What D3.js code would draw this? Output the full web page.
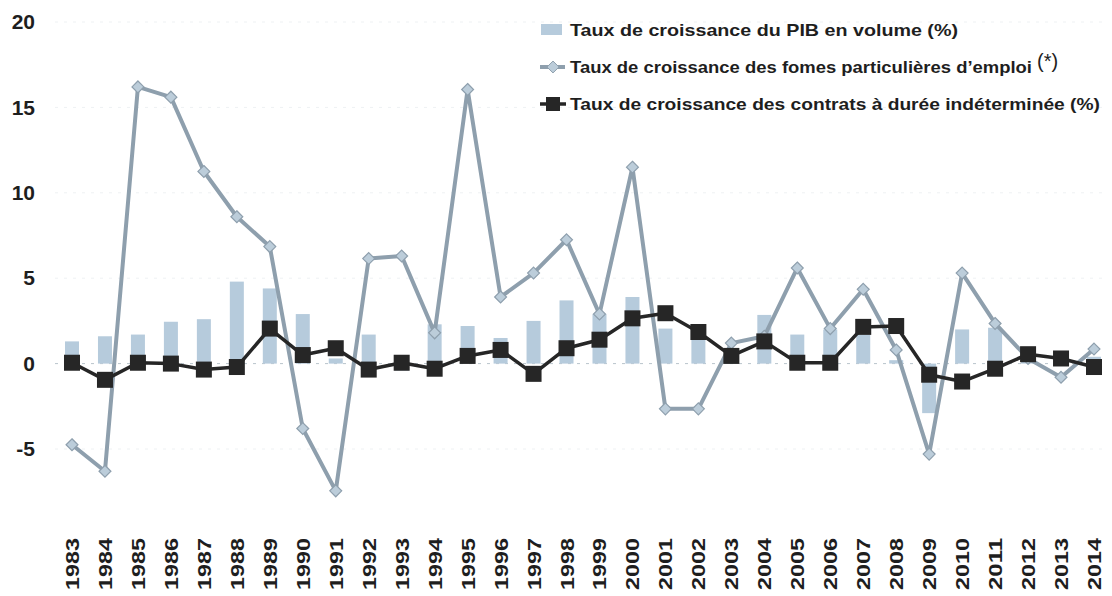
<!DOCTYPE html>
<html>
<head>
<meta charset="utf-8">
<script src="https://cdn.jsdelivr.net/npm/d3@7"></script>
<style>
  body { margin: 0; background: #fff; }
  svg { display: block; font-family: "Liberation Sans", Arial, sans-serif; }
</style>
</head>
<body>
<svg id="chart" width="1112" height="596"></svg>
<script>
// Data
const years = d3.range(1983, 2015).map(String);
const pib = [1.3, 1.6, 1.7, 2.45, 2.6, 4.8, 4.4, 2.9, 0.3, 1.7, -0.4, 2.3, 2.2, 1.5, 2.5, 3.7,
             2.9, 3.9, 2.05, 1.4, 0.8, 2.85, 1.7, 2.0, 1.7, 0.2, -2.9, 2.0, 2.1, 0.2, 0.5, 0.4];
const formes = [-4.75, -6.3, 16.2, 15.6, 11.25, 8.6, 6.85, -3.8, -7.45, 6.15, 6.3, 1.8, 16.05, 3.9, 5.3, 7.25,
                2.9, 11.5, -2.65, -2.65, 1.2, 1.6, 5.6, 2.05, 4.35, 0.8, -5.3, 5.3, 2.35, 0.3, -0.8, 0.85];
const cdi = [0.05, -0.95, 0.05, 0.0, -0.35, -0.2, 2.05, 0.5, 0.9, -0.35, 0.05, -0.3, 0.45, 0.8, -0.6, 0.9,
             1.4, 2.65, 2.95, 1.85, 0.45, 1.3, 0.05, 0.05, 2.15, 2.2, -0.65, -1.05, -0.3, 0.55, 0.3, -0.2];
const yTicks = [-5, 0, 5, 10, 15, 20];
const legendLabels = [
  "Taux de croissance du PIB en volume (%)",
  "Taux de croissance des fomes particulières d\u2019emploi",
  "Taux de croissance des contrats à durée indéterminée (%)"
];

const barColor = "#b6cbdc";
const greyLine = "#8e9fad";
const diamondFill = "#bccdda";
const darkLine = "#262626";
const textColor = "#1e1e1e";

const svg = d3.select("#chart");

const x = d3.scalePoint().domain(years).range([72, 1094]);
const y = d3.scaleLinear().domain([-5, 20]).range([449, 22]);

// faint dotted gridlines
svg.append("g")
  .selectAll("line")
  .data(yTicks)
  .join("line")
  .attr("x1", 55)
  .attr("x2", 1105)
  .attr("y1", d => y(d))
  .attr("y2", d => y(d))
  .attr("stroke", d => d === 0 ? "#b9c4cc" : "#eef1f3")
  .attr("stroke-width", 1)
  .attr("stroke-dasharray", "3,6");

// y axis labels
const yAxis = svg.append("g")
  .attr("transform", "translate(41,0)")
  .call(d3.axisLeft(y).tickValues(yTicks).tickSize(0).tickPadding(6).tickFormat(d => String(d)));
yAxis.select(".domain").remove();
yAxis.selectAll("text")
  .attr("font-size", 21)
  .attr("font-weight", "bold")
  .attr("fill", textColor)
  .attr("font-family", "Liberation Sans, Arial, sans-serif");

// x axis labels (rotated)
svg.append("g")
  .selectAll("text")
  .data(years)
  .join("text")
  .attr("transform", d => `translate(${x(d) + 7},590) rotate(-90)`)
  .attr("font-size", 19)
  .attr("font-weight", "bold")
  .attr("fill", textColor)
  .attr("textLength", 52)
  .attr("lengthAdjust", "spacingAndGlyphs")
  .text(d => d);

// GDP bars
const barW = 14;
svg.append("g")
  .selectAll("rect")
  .data(years)
  .join("rect")
  .attr("x", d => x(d) - barW / 2)
  .attr("width", barW)
  .attr("y", (d, i) => y(Math.max(0, pib[i])))
  .attr("height", (d, i) => Math.abs(y(pib[i]) - y(0)))
  .attr("fill", barColor);

// Formes particulières line
const lineF = d3.line().x((d, i) => x(years[i])).y(d => y(d));
svg.append("path")
  .datum(formes)
  .attr("d", lineF)
  .attr("fill", "none")
  .attr("stroke", greyLine)
  .attr("stroke-width", 4)
  .attr("stroke-linejoin", "round");

const diamond = d3.symbol().type(d3.symbolDiamond2).size(90);
svg.append("g")
  .selectAll("path")
  .data(formes)
  .join("path")
  .attr("transform", (d, i) => `translate(${x(years[i])},${y(d)})`)
  .attr("d", diamond)
  .attr("fill", diamondFill)
  .attr("stroke", greyLine)
  .attr("stroke-width", 1.2);

// CDI line
svg.append("path")
  .datum(cdi)
  .attr("d", lineF)
  .attr("fill", "none")
  .attr("stroke", darkLine)
  .attr("stroke-width", 3.5)
  .attr("stroke-linejoin", "round");

const sq = 16;
svg.append("g")
  .selectAll("rect")
  .data(cdi)
  .join("rect")
  .attr("x", (d, i) => x(years[i]) - sq / 2)
  .attr("y", d => y(d) - sq / 2)
  .attr("width", sq)
  .attr("height", sq)
  .attr("fill", darkLine);

// Legend
const legend = svg.append("g").attr("transform", "translate(540,0)");
const rowY = [30, 67, 104];
const textLens = [388, 462, 530];

legend.append("rect")
  .attr("x", 1).attr("y", rowY[0] - 6)
  .attr("width", 21).attr("height", 11)
  .attr("fill", barColor);

legend.append("line")
  .attr("x1", 0).attr("x2", 25)
  .attr("y1", rowY[1]).attr("y2", rowY[1])
  .attr("stroke", greyLine).attr("stroke-width", 4);
legend.append("path")
  .attr("transform", `translate(13,${rowY[1]})`)
  .attr("d", diamond)
  .attr("fill", diamondFill)
  .attr("stroke", greyLine);

legend.append("line")
  .attr("x1", 0).attr("x2", 26)
  .attr("y1", rowY[2]).attr("y2", rowY[2])
  .attr("stroke", darkLine).attr("stroke-width", 3.5);
legend.append("rect")
  .attr("x", 13 - 7).attr("y", rowY[2] - 7)
  .attr("width", 14).attr("height", 14)
  .attr("fill", darkLine);

legend.selectAll("text.lbl")
  .data(legendLabels)
  .join("text")
  .attr("class", "lbl")
  .attr("x", 30)
  .attr("y", (d, i) => rowY[i] + 6)
  .attr("font-size", 17)
  .attr("font-weight", "bold")
  .attr("fill", textColor)
  .attr("textLength", (d, i) => textLens[i])
  .attr("lengthAdjust", "spacingAndGlyphs")
  .text(d => d);

legend.append("text")
  .attr("x", 497)
  .attr("y", rowY[1] + 1)
  .attr("font-size", 20)
  .attr("fill", textColor)
  .text("(*)");
</script>
</body>
</html>
